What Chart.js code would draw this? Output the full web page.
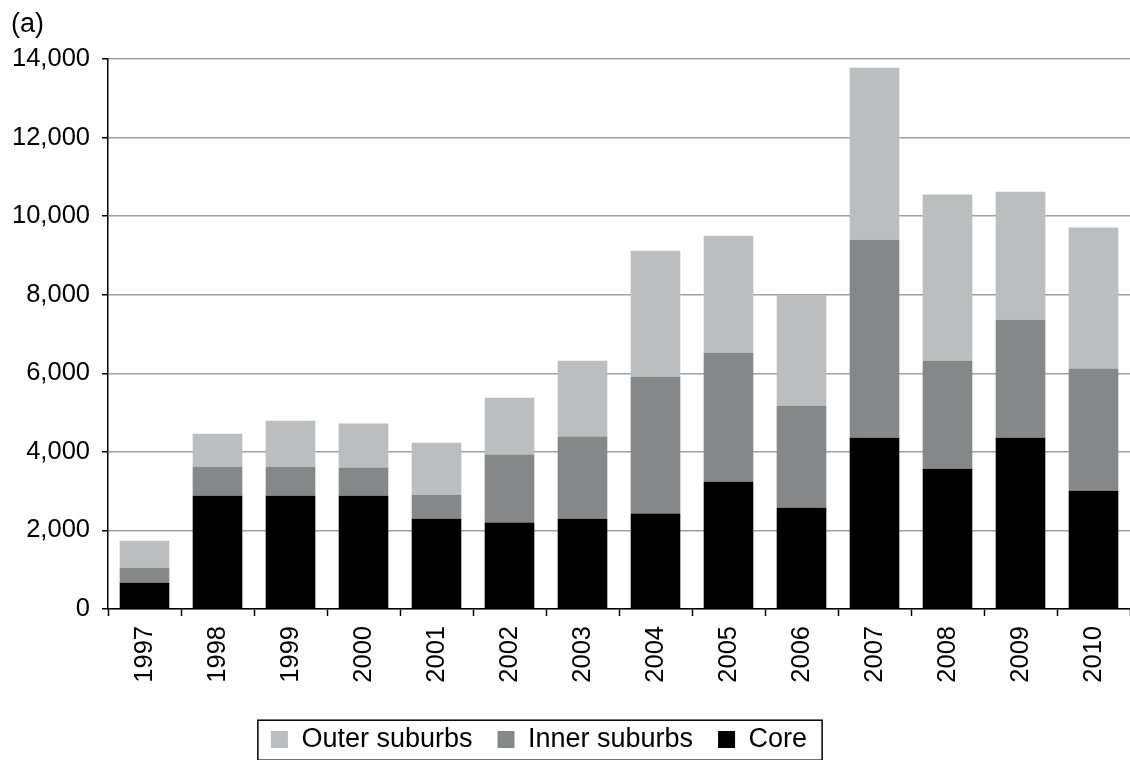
<!DOCTYPE html>
<html>
<head>
<meta charset="utf-8">
<script src="https://cdn.jsdelivr.net/npm/chart.js@4.4.1/dist/chart.umd.min.js"></script>
<style>
  html, body { margin: 0; padding: 0; background: #ffffff; }
  #wrap { width: 1130px; height: 760px; position: relative; }
</style>
</head>
<body>
<div id="wrap"><canvas id="c" width="1130" height="760"></canvas></div>
<script>
// Years on the category axis
const years = ['1997', '1998', '1999', '2000', '2001', '2002', '2003',
               '2004', '2005', '2006', '2007', '2008', '2009', '2010'];

// Stacked segment values (bottom to top)
const core         = [670, 2880, 2880, 2880, 2300, 2200, 2300, 2430, 3240, 2580, 4360, 3570, 4360, 3010];
const innerSuburbs = [380,  740,  740,  720,  610, 1730, 2090, 3480, 3280, 2590, 5040, 2750, 3000, 3110];
const outerSuburbs = [690,  840, 1170, 1120, 1320, 1450, 1930, 3210, 2980, 2820, 4380, 4230, 3260, 3590];

// Value axis
const yMin = 0;
const yMax = 14000;
const yStep = 2000;

const FONT = "'Liberation Sans', Arial, Helvetica, sans-serif";
const LEGEND_SIZE = 27;

// Panel label in the top-left corner
const panelLabel = {
  id: 'panelLabel',
  afterDraw(chart) {
    const ctx = chart.ctx;
    ctx.save();
    ctx.fillStyle = '#000';
    ctx.font = '27px ' + FONT;
    ctx.textAlign = 'left';
    ctx.textBaseline = 'top';
    ctx.fillText('(a)', 11, 11);
    ctx.restore();
  }
};

// Nudge the legend under the plot and draw a frame around its items
const legendFrame = {
  id: 'legendFrame',
  afterLayout(chart) {
    const lg = chart.legend;
    if (!lg) return;
    lg.left -= 26; lg.right -= 26;
    lg.top += 3; lg.bottom += 3;
  },
  afterDraw(chart) {
    const lg = chart.legend;
    if (!lg || !lg.legendItems) return;
    const o = lg.options.labels;
    const fs = o.font.size, pad = o.padding, bw = o.boxWidth;
    const ctx = chart.ctx;
    ctx.save();
    ctx.font = fs + 'px ' + FONT;
    const widths = lg.legendItems.map(it => bw + fs / 2 + ctx.measureText(it.text).width);
    const lineW = widths.reduce((a, w) => a + w + pad, 0);
    const x0 = (lg.left + pad + lg.right - lineW) / 2;
    const cy = lg.top + pad + (fs * 1.2) / 2;
    const left = x0 - 13;
    const right = x0 + lineW - pad + 15;
    const top = cy - 22;
    const bottom = cy + 18;
    ctx.strokeStyle = '#000';
    ctx.lineWidth = 1.5;
    ctx.strokeRect(left, top, right - left, bottom - top);
    ctx.restore();
  }
};

new Chart(document.getElementById('c'), {
  type: 'bar',
  data: {
    labels: years,
    datasets: [
      { label: 'Core',          data: core,         backgroundColor: '#000000' },
      { label: 'Inner suburbs', data: innerSuburbs, backgroundColor: '#86878a' },
      { label: 'Outer suburbs', data: outerSuburbs, backgroundColor: '#bcbdbf' }
    ]
  },
  options: {
    responsive: false,
    animation: false,
    devicePixelRatio: 1,
    layout: { padding: { top: 59, left: 0, right: 0, bottom: 0 } },
    datasets: {
      bar: { categoryPercentage: 1.0, barPercentage: 0.68, borderWidth: 0 }
    },
    plugins: {
      title: { display: false },
      tooltip: { enabled: false },
      legend: {
        display: true,
        position: 'bottom',
        reverse: true,
        labels: {
          color: '#000',
          font: { family: FONT, size: LEGEND_SIZE },
          boxWidth: 17,
          boxHeight: 17,
          padding: 25
        }
      }
    },
    scales: {
      x: {
        stacked: true,
        offset: true,
        grid: {
          display: true,
          offset: true,
          drawOnChartArea: false,
          drawTicks: true,
          tickLength: 7,
          tickColor: '#000',
          tickWidth: 1.5
        },
        border: { display: true, color: '#000', width: 1.5 },
        ticks: {
          color: '#000',
          font: { family: FONT, size: 25.5 },
          maxRotation: 90,
          minRotation: 90,
          padding: 10,
          autoSkip: false
        },
        afterFit(scale) {
          scale.height = 89;
          scale.paddingLeft = 0;
          scale.paddingRight = 0;
        }
      },
      y: {
        stacked: true,
        min: yMin,
        max: yMax,
        grid: {
          color: '#a0a0a2',
          lineWidth: 1.5,
          drawTicks: true,
          tickLength: 6,
          tickColor: '#000',
          tickWidth: 1.5
        },
        border: { display: true, color: '#000', width: 1.5 },
        ticks: {
          stepSize: yStep,
          color: '#000',
          font: { family: FONT, size: 25.5 },
          padding: 12
        },
        afterFit(scale) { scale.width = 108; }
      }
    }
  },
  plugins: [panelLabel, legendFrame]
});
</script>
</body>
</html>
